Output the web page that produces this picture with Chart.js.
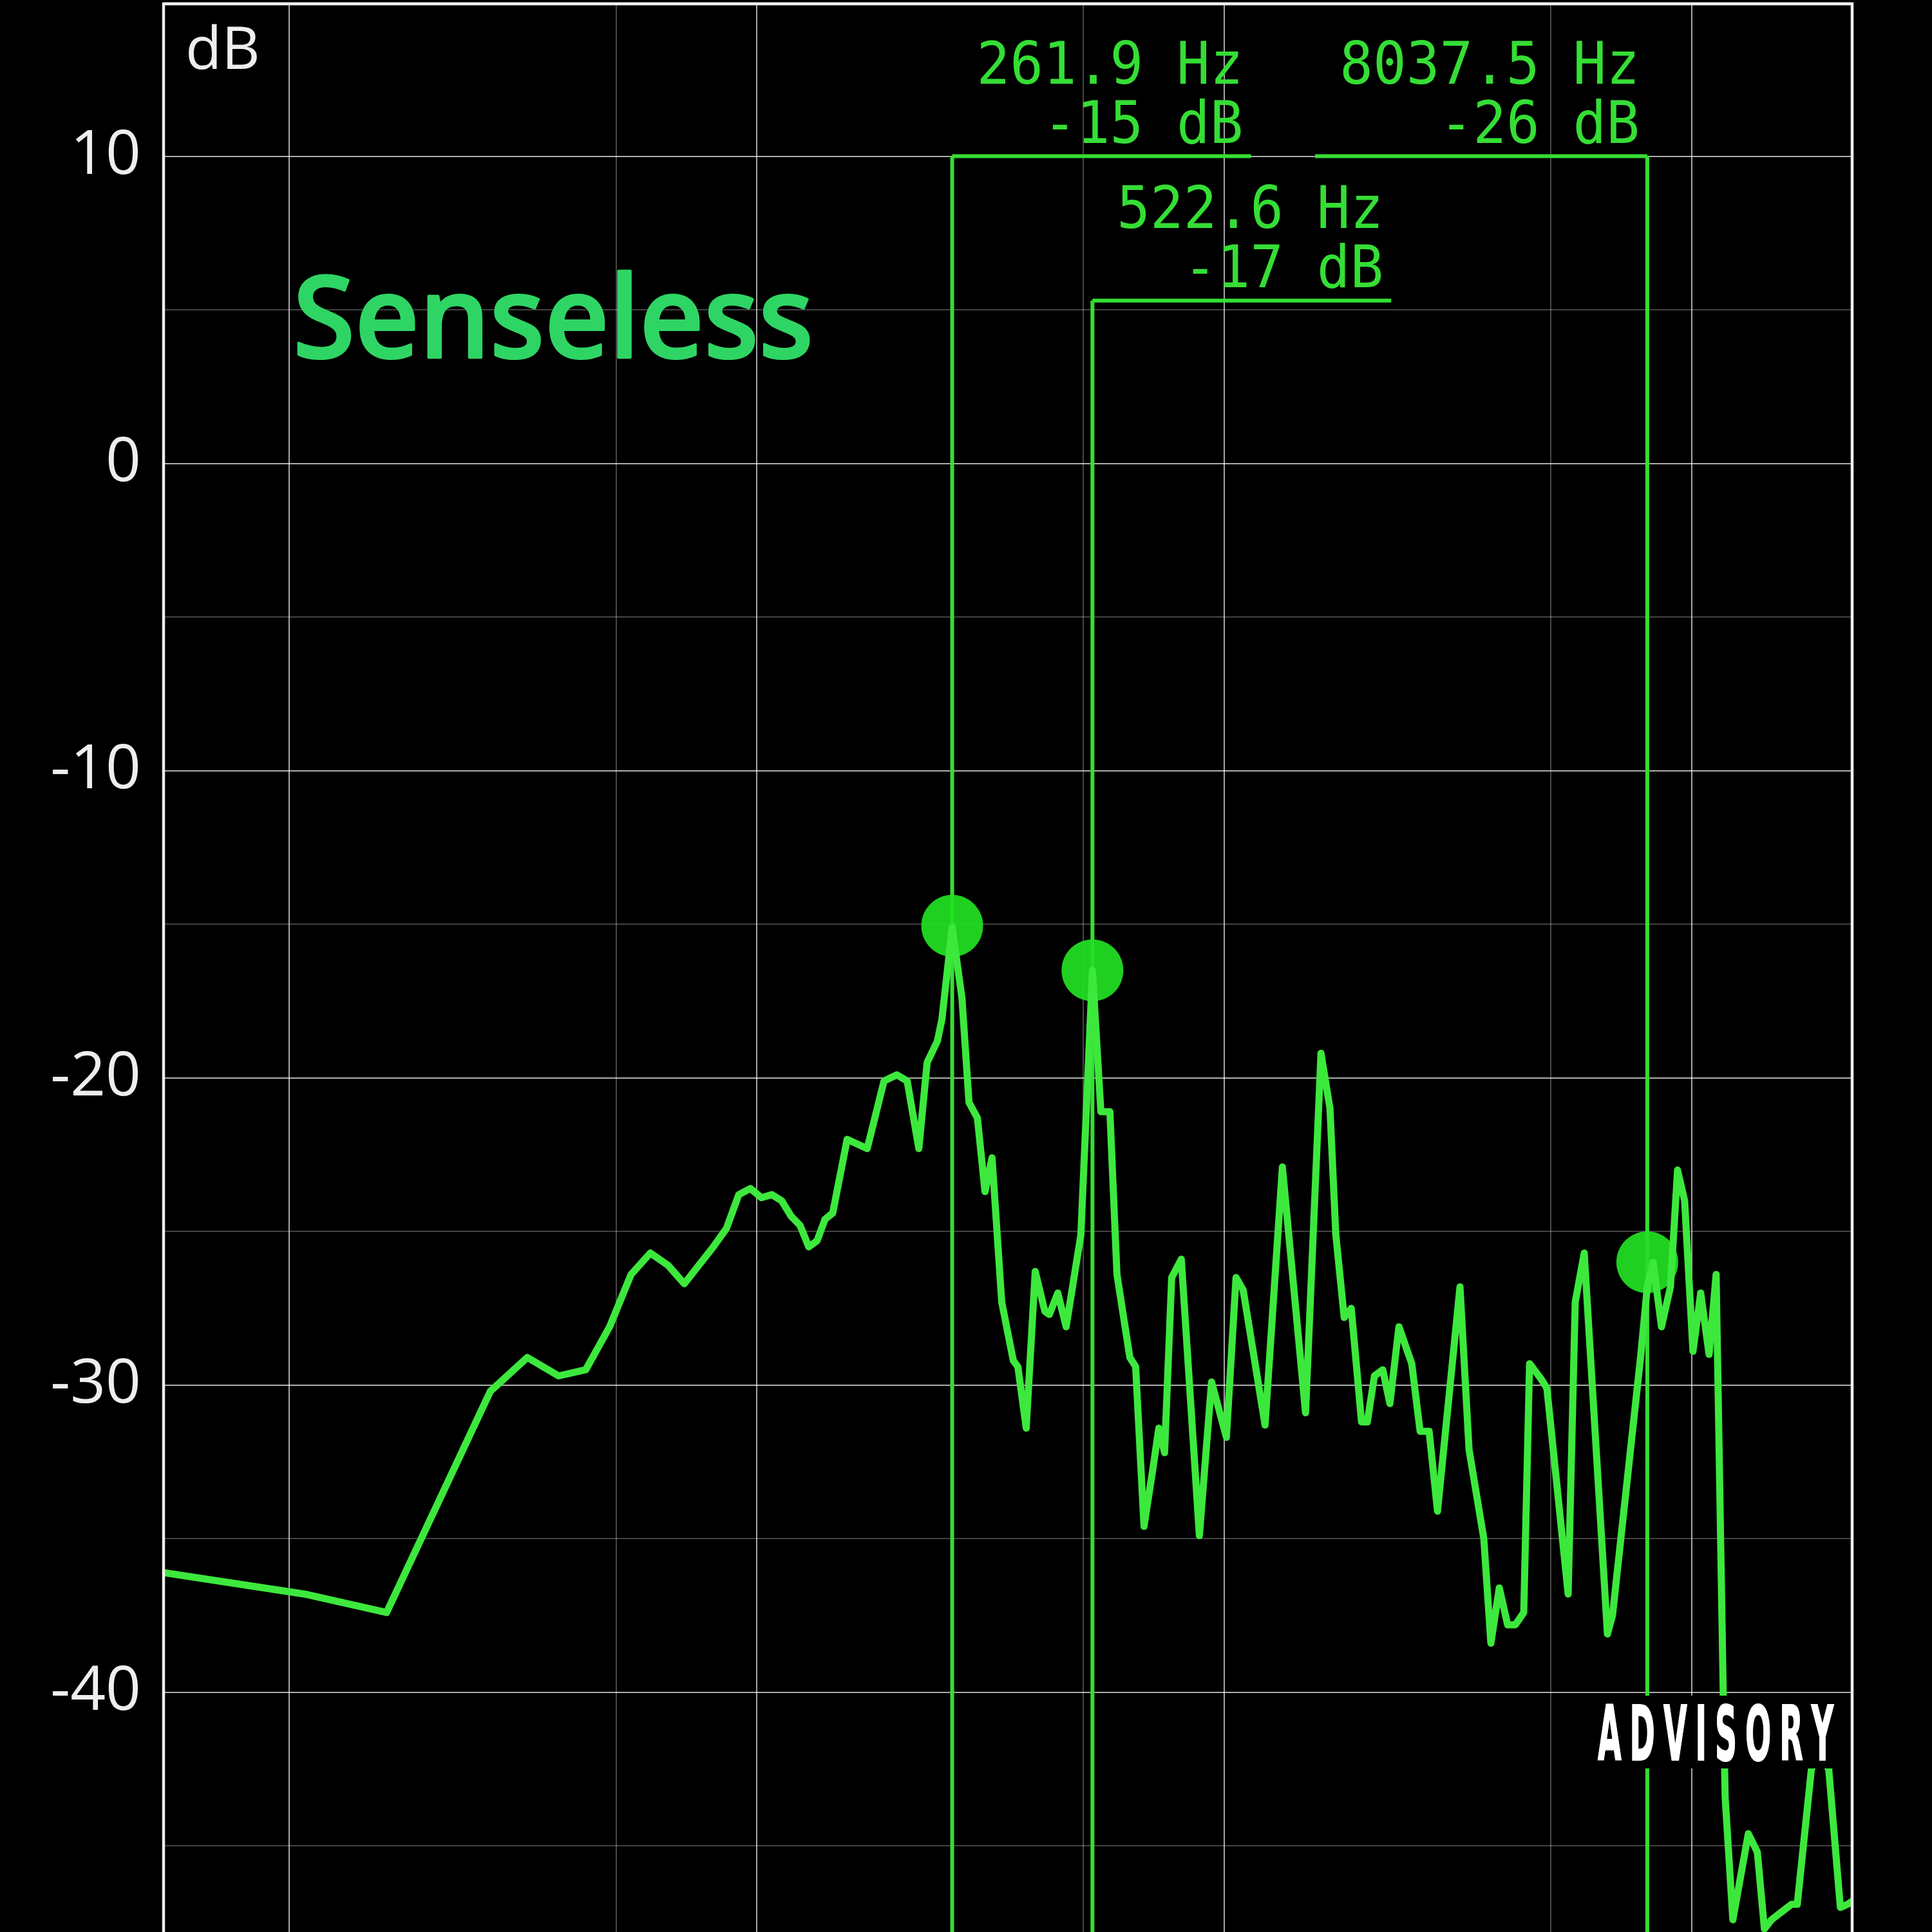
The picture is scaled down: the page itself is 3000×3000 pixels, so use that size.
<!DOCTYPE html>
<html>
<head>
<meta charset="utf-8">
<script src="https://cdn.jsdelivr.net/npm/chart.js@4.4.1/dist/chart.umd.min.js"></script>
<style>
  html, body { margin: 0; padding: 0; background: #000; }
  canvas { display: block; }
</style>
</head>
<body>
<canvas id="spectrum" width="3000" height="3000"></canvas>
<script>
// spectrum: frequency (Hz) / level (dB)
var freqs = [5.38, 10.77, 16.15, 26.92, 32.30, 37.68, 43.07, 48.45, 53.83, 59.22,
  64.60, 69.98, 80.75, 86.13, 91.52, 96.90, 102.3, 107.7, 113.1, 118.4,
  123.8, 129.2, 134.6, 140.0, 145.4, 156.1, 172.3, 187.2, 199.4, 209.8,
  222.2, 231.5, 243.5, 248.9, 261.9, 274.8, 284.5, 296.5, 307.8, 318.7,
  334.3, 353.9, 361.9, 377.1, 394.2, 413.4, 422.7, 440.6, 459.1, 493.7,
  522.6, 544.8, 569.5, 589.7, 628.3, 646.5, 673.7, 704.2, 724.6, 745.6,
  772.1, 809.6, 885.0, 939.7, 1011, 1060, 1098, 1223, 1332, 1493,
  1611, 1684, 1733, 1806, 1870, 1967, 2024, 2096, 2184, 2262,
  2365, 2519, 2625, 2744, 2860, 3195, 3341, 3593, 3720, 3877,
  4040, 4197, 4374, 4501, 4764, 4902, 5443, 5636, 5892, 6605,
  6772, 7788, 8037, 8271, 8620, 9010, 9330, 9661, 10067, 10457,
  10897, 11284, 11684, 11795, 12251, 13223, 13822, 14313, 14821, 16352,
  16825, 18040, 18737, 19649, 20806, 21544, 22050];
var levels = [-36.1, -36.8, -37.4, -30.2, -29.1, -29.7, -29.5, -28.1, -26.4, -25.7,
  -26.1, -26.7, -25.5, -24.9, -23.8, -23.6, -23.9, -23.8, -24.0, -24.5,
  -24.8, -25.5, -25.3, -24.6, -24.4, -22.0, -22.3, -20.1, -19.9, -20.1,
  -22.3, -19.5, -18.8, -18.1, -15.1, -17.4, -20.8, -21.3, -23.7, -22.6,
  -27.3, -29.2, -29.4, -31.4, -26.3, -27.6, -27.7, -27.0, -28.1, -25.1,
  -16.5, -21.1, -21.1, -26.4, -29.1, -29.4, -34.6, -32.7, -31.4, -32.2,
  -26.5, -25.9, -34.9, -29.9, -31.7, -26.5, -26.9, -31.3, -22.9, -30.9,
  -19.2, -21.0, -25.1, -27.8, -27.5, -31.2, -31.2, -29.7, -29.5, -30.6,
  -28.1, -29.3, -31.5, -31.5, -34.1, -26.8, -32.1, -35.0, -38.4, -36.6,
  -37.8, -37.8, -37.4, -29.3, -29.8, -30.1, -36.8, -27.3, -25.7, -38.1,
  -37.5, -29.0, -26.8, -26.0, -28.1, -26.8, -23.0, -24.0, -28.9, -27.0,
  -29.0, -26.4, -40.0, -43.4, -47.4, -44.6, -45.2, -47.7, -47.4, -46.9,
  -46.9, -42.5, -42.0, -42.5, -47.0, -46.9, -46.8];

// marked peaks and their readouts
var peakFreqs = [261.9, 522.6, 8037.5];
var peakLevels = [-15.05, -16.5, -26.0];
var peakHz = ['261.9 Hz', '522.6 Hz', '8037.5 Hz'];
var peakDb = ['-15 dB', '-17 dB', '-26 dB'];
var labelLevels = [10, 5.3, 10];
var labelSides = ['right', 'right', 'left'];

var dbTicks = [15, 10, 5, 0, -5, -10, -15, -20, -25, -30, -35, -40, -45];
var freqGrid = [10, 50, 100, 500, 1000, 5000, 10000];
var majorFreqs = [10, 100, 1000, 10000];

var GREEN = '#35de35';

var overlay = {
  id: 'overlay',
  beforeDatasetsDraw: function (chart) {
    var ctx = chart.ctx;
    var area = chart.chartArea;
    var xs = chart.scales.x;
    var ys = chart.scales.y;

    // title scrawl
    ctx.save();
    ctx.font = '500 177px "Noto Sans"';
    var tw = ctx.measureText('Senseless').width;
    ctx.translate(455, 555);
    ctx.scale(808 / tw, 1);
    ctx.fillStyle = '#2fd564';
    ctx.strokeStyle = '#2fd564';
    ctx.lineWidth = 4;
    ctx.lineJoin = 'round';
    ctx.textBaseline = 'alphabetic';
    ctx.fillText('Senseless', 0, 0);
    ctx.strokeText('Senseless', 0, 0);
    ctx.restore();

    // peak markers: leader lines and readouts
    ctx.save();
    ctx.font = '90px "DejaVu Sans Mono"';
    var sx = 0.955;
    ctx.strokeStyle = GREEN;
    ctx.fillStyle = GREEN;
    for (var i = 0; i < peakFreqs.length; i++) {
      var px = xs.getPixelForValue(peakFreqs[i]);
      var ly = ys.getPixelForValue(labelLevels[i]);
      var w = Math.max(ctx.measureText(peakHz[i]).width, ctx.measureText(peakDb[i]).width) * sx;
      var x0, x1, textRight;
      if (labelSides[i] === 'right') {
        x0 = px; x1 = px + w + 50;
      } else {
        x0 = px - w - 50; x1 = px;
      }
      textRight = x1 - 12;

      ctx.lineWidth = 6;
      ctx.beginPath();
      ctx.moveTo(x0, ly);
      ctx.lineTo(x1, ly);
      ctx.stroke();

      ctx.beginPath();
      ctx.moveTo(px, ly);
      ctx.lineTo(px, area.bottom);
      ctx.stroke();

      ctx.textAlign = 'right';
      ctx.textBaseline = 'alphabetic';
      [[peakHz[i], ly - 113], [peakDb[i], ly - 21]].forEach(function (row) {
        ctx.save();
        ctx.translate(textRight, row[1]);
        ctx.scale(sx, 1);
        ctx.fillText(row[0], 0, 0);
        ctx.restore();
      });
    }
    ctx.restore();
  },
  afterDatasetsDraw: function (chart) {
    var ctx = chart.ctx;
    var area = chart.chartArea;

    // frame
    ctx.save();
    ctx.strokeStyle = '#f0f0f0';
    ctx.lineWidth = 4.5;
    ctx.beginPath();
    ctx.moveTo(area.left, 3000);
    ctx.lineTo(area.left, area.top + 2);
    ctx.lineTo(area.right, area.top + 2);
    ctx.lineTo(area.right, 3000);
    ctx.stroke();

    // unit label
    ctx.fillStyle = '#eeeeee';
    ctx.font = '92px "Open Sans"';
    ctx.textAlign = 'left';
    ctx.textBaseline = 'alphabetic';
    ctx.fillText('dB', area.left + 34, 107);

    // sticker
    ctx.fillStyle = '#000';
    ctx.fillRect(2478, 2633, 373, 113);
    ctx.fillStyle = '#ffffff';
    ctx.strokeStyle = '#ffffff';
    ctx.lineWidth = 2;
    ctx.font = 'bold 117px "DejaVu Sans Condensed", "DejaVu Sans"';
    var word = 'ADVISORY';
    var ax = 0.45;
    var widths = word.split('').map(function (ch) { return ctx.measureText(ch).width * ax; });
    var sum = widths.reduce(function (a, b) { return a + b; }, 0);
    var gap = (366 - sum) / (word.length - 1);
    var cx = 2481;
    for (var k = 0; k < word.length; k++) {
      ctx.save();
      ctx.translate(cx, 2733);
      ctx.scale(ax, 1);
      ctx.fillText(word[k], 0, 0);
      ctx.strokeText(word[k], 0, 0);
      ctx.restore();
      cx += widths[k] + gap;
    }
    ctx.restore();
  }
};

var spectrum = freqs.map(function (f, i) { return { x: f, y: levels[i] }; });
var peaks = peakFreqs.map(function (f, i) { return { x: f, y: peakLevels[i] }; });

new Chart(document.getElementById('spectrum'), {
  type: 'line',
  data: {
    datasets: [{
      data: spectrum,
      borderColor: '#3de83d',
      borderWidth: 11,
      borderJoinStyle: 'round',
      borderCapStyle: 'round',
      pointRadius: 0,
      tension: 0,
      order: 1,
    }, {
      data: peaks,
      showLine: false,
      pointRadius: 48,
      pointBackgroundColor: 'rgba(34,224,34,0.93)',
      pointBorderWidth: 0,
      order: 2,
    }],
  },
  options: {
    responsive: false,
    animation: false,
    devicePixelRatio: 1,
    layout: { autoPadding: false, padding: { top: 4, right: 124, bottom: 0, left: 0 } },
    plugins: {
      legend: { display: false },
      tooltip: { enabled: false },
    },
    scales: {
      x: {
        type: 'logarithmic',
        min: 5.383,
        max: 22050,
        bounds: 'data',
        afterBuildTicks: function (scale) {
          scale.ticks = freqGrid.map(function (v) { return { value: v }; });
        },
        afterFit: function (scale) {
          scale.height = 0;
          scale.paddingLeft = 0;
          scale.paddingRight = 0;
        },
        ticks: { display: false },
        border: { display: false },
        grid: {
          drawTicks: false,
          lineWidth: 2,
          color: function (c) {
            return c.tick && majorFreqs.indexOf(c.tick.value) >= 0 ? 'rgba(255,255,255,0.65)' : 'rgba(255,255,255,0.28)';
          },
        },
      },
      y: {
        min: -47.8,
        max: 15,
        afterBuildTicks: function (scale) {
          scale.ticks = dbTicks.map(function (v) { return { value: v }; });
        },
        afterFit: function (scale) {
          scale.width = 254;
          scale.paddingTop = 0;
          scale.paddingBottom = 0;
        },
        border: { display: false },
        grid: {
          drawTicks: false,
          lineWidth: 2,
          color: function (c) {
            return c.tick && c.tick.value % 10 === 0 ? 'rgba(255,255,255,0.68)' : 'rgba(255,255,255,0.26)';
          },
        },
        ticks: {
          padding: 35,
          color: '#eeeeee',
          font: { family: '"Open Sans"', size: 96 },
          callback: function (v) { return v % 10 === 0 ? String(v) : ''; },
        },
      },
    },
  },
  plugins: [overlay],
});
</script>
</body>
</html>
